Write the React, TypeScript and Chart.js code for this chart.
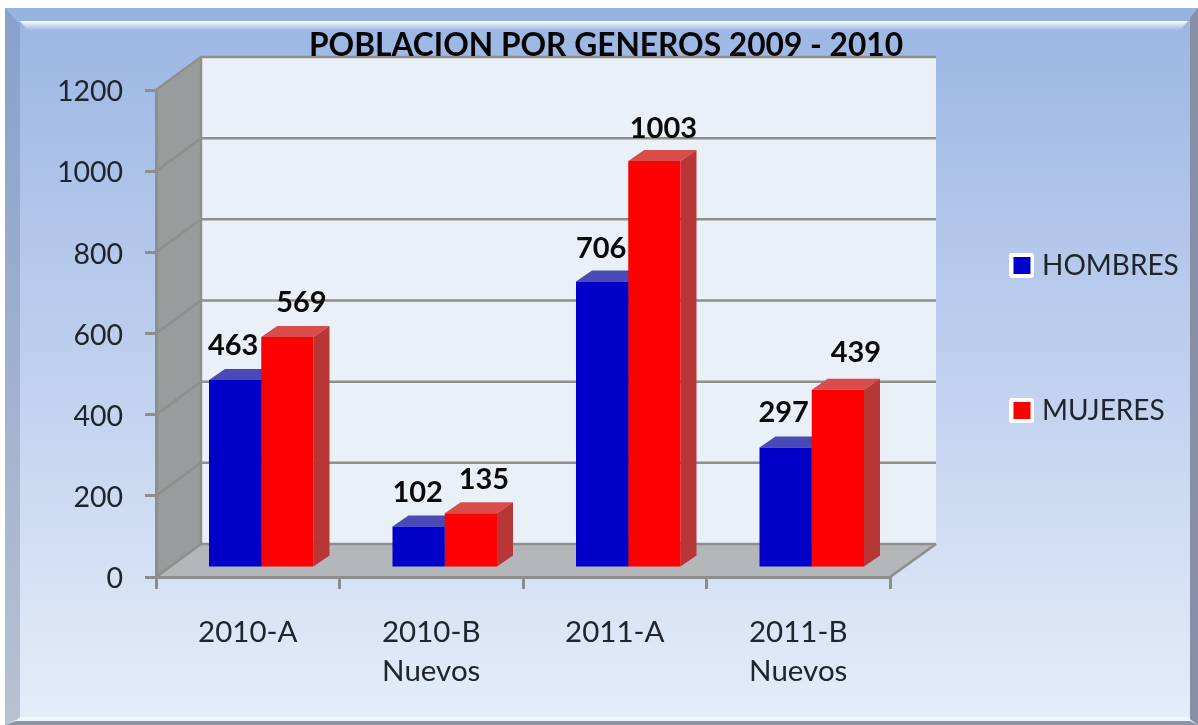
import React, { useEffect, useRef } from "react";
import { Chart, registerables } from "chart.js";

Chart.register(...registerables);

const categories = [["2010-A"], ["2010-B", "Nuevos"], ["2011-A"], ["2011-B", "Nuevos"]];
const hombres = [463, 102, 706, 297];
const mujeres = [569, 135, 1003, 439];
const seriesNames = ["HOMBRES", "MUJERES"];
const titleText = "POBLACION POR GENEROS 2009 - 2010";

const BLUE = "#0000c8";
const RED = "#ff0000";
const FONT = "Lato, 'Noto Sans', sans-serif";
const DEPTH_X = 45;
const DEPTH_Y = 33;
const BAR_SHIFT_X = 13.5;
const BAR_SHIFT_Y = 9;
const FACE_X = 16;
const FACE_Y = 11;
const faceColors = [
  { top: "#4a4ab6", side: "#00009c" },
  { top: "#d94c4c", side: "#b83636" },
];
const labelNudgeX = [
  [-2, -1, -1, -2],
  [14, 13, 9, 18],
];
const labelNudgeY = [
  [1, 1, 2, 0],
  [1, 1, 3, -2],
];

function poly(ctx: CanvasRenderingContext2D, pts: number[][], fill: any) {
  ctx.fillStyle = fill;
  ctx.beginPath();
  pts.forEach((p, i) => (i ? ctx.lineTo(p[0], p[1]) : ctx.moveTo(p[0], p[1])));
  ctx.closePath();
  ctx.fill();
}

const scenePlugin = {
  id: "scene",
  beforeDraw(chart: any) {
    const { ctx, chartArea: a } = chart;
    const W = chart.width;
    const H = chart.height;
    ctx.save();
    // panel
    const g = ctx.createLinearGradient(0, 8, 0, H);
    g.addColorStop(0, "#9bb6e3");
    g.addColorStop(0.5, "#bfd0ee");
    g.addColorStop(1, "#e5edf9");
    ctx.fillStyle = g;
    ctx.fillRect(5, 8, W - 5, H - 8);
    // bevels
    poly(ctx, [[5, 8], [W, 8], [1188, 21], [20, 21]], "#97b3df");
    const hl = ctx.createLinearGradient(0, 21, 0, 30);
    hl.addColorStop(0, "#ffffff");
    hl.addColorStop(1, "rgba(255,255,255,0)");
    poly(ctx, [[20, 21], [1188, 21], [1180, 30], [28, 30]], hl);
    const lb = ctx.createLinearGradient(0, 8, 0, H);
    lb.addColorStop(0, "#88a0cc");
    lb.addColorStop(1, "#b8c1d2");
    poly(ctx, [[5, 8], [20, 24], [20, 718], [5, H]], lb);
    poly(ctx, [[W, 8], [1190, 18], [1190, 719], [W, H]], "#868fa6");
    poly(ctx, [[5, H], [W, H], [1190, 721], [16, 721]], "#8d95a8");
    poly(ctx, [[20, 717], [1190, 717], [1190, 721], [16, 721]], "#f2f6fc");
    // 3D box
    const { left: l, right: r, top: t, bottom: b } = a;
    const dx = DEPTH_X;
    const dy = DEPTH_Y;
    poly(ctx, [[l + dx + 0, t - dy], [r + dx + 1, t - dy], [r + dx + 1, b - dy], [l + dx, b - dy]], "#e9f0f7");
    poly(ctx, [[l, t], [l + dx, t - dy], [l + dx, b - dy], [l, b]], "#979c9c");
    poly(ctx, [[l, b], [r, b], [r + dx + 1, b - dy], [l + dx, b - dy]], "#b3b7ba");
    // gridlines along the walls
    ctx.strokeStyle = "#8e8e8c";
    ctx.lineWidth = 2.5;
    const ys = chart.scales.y;
    ys.ticks.forEach((_: any, i: number) => {
      const y = ys.getPixelForTick(i);
      ctx.beginPath();
      ctx.moveTo(l, y);
      ctx.lineTo(l + dx, y - dy);
      ctx.lineTo(r + dx + 1, y - dy);
      ctx.stroke();
    });
    ctx.beginPath();
    ctx.moveTo(l + dx, t - dy);
    ctx.lineTo(l + dx, b - dy);
    ctx.stroke();
    ctx.beginPath();
    ctx.moveTo(r, b);
    ctx.lineTo(r + dx + 1, b - dy);
    ctx.stroke();
    ctx.restore();
  },
  beforeDatasetsDraw(chart: any) {
    const { ctx } = chart;
    ctx.save();
    ctx.translate(BAR_SHIFT_X, -BAR_SHIFT_Y);
    chart.data.datasets.forEach((_: any, di: number) => {
      chart.getDatasetMeta(di).data.forEach((bar: any) => {
        const p = bar.getProps(["x", "y", "base", "width"], true);
        const x0 = p.x - p.width / 2;
        const x1 = p.x + p.width / 2;
        poly(ctx, [[x0, p.y], [x0 + FACE_X, p.y - FACE_Y], [x1 + FACE_X, p.y - FACE_Y], [x1, p.y]], faceColors[di].top);
        poly(ctx, [[x1, p.y], [x1 + FACE_X, p.y - FACE_Y], [x1 + FACE_X, p.base - FACE_Y], [x1, p.base]], faceColors[di].side);
      });
    });
  },
  afterDatasetsDraw(chart: any) {
    const { ctx } = chart;
    ctx.restore();
    ctx.save();
    // value labels
    ctx.fillStyle = "#0a0a0a";
    ctx.font = `bold 29px ${FONT}`;
    ctx.textAlign = "center";
    ctx.textBaseline = "middle";
    chart.data.datasets.forEach((ds: any, di: number) => {
      chart.getDatasetMeta(di).data.forEach((bar: any, i: number) => {
        const p = bar.getProps(["x", "y"], true);
        ctx.fillText(String(ds.data[i]), p.x + BAR_SHIFT_X + labelNudgeX[di][i], p.y - BAR_SHIFT_Y - 35 + labelNudgeY[di][i]);
      });
    });
    // title
    ctx.font = `bold 31.7px ${FONT}`;
    ctx.fillStyle = "#050505";
    ctx.fillText(titleText, 606, 46);
    // legend
    ctx.font = `28px ${FONT}`;
    ctx.textAlign = "left";
    ctx.fillStyle = "#20242c";
    [265.5, 410.5].forEach((cy, i) => {
      ctx.save();
      ctx.fillStyle = "#ffffff";
      ctx.beginPath();
      ctx.roundRect(1009, cy - 12.5, 25, 25, 3);
      ctx.fill();
      ctx.fillStyle = i ? RED : BLUE;
      ctx.fillRect(1013.5, cy - 8.5, 17, 17);
      ctx.restore();
      ctx.fillText(seriesNames[i], 1042, cy);
    });
    ctx.restore();
  },
};

export default function App() {
  const ref = useRef<HTMLCanvasElement>(null);
  useEffect(() => {
    document.body.style.margin = "0";
    const chart = new Chart(ref.current as HTMLCanvasElement, {
      type: "bar",
      data: {
        labels: categories as any,
        datasets: [
          { label: seriesNames[0], data: hombres, backgroundColor: BLUE, categoryPercentage: 0.5695, barPercentage: 1, clip: false },
          { label: seriesNames[1], data: mujeres, backgroundColor: RED, categoryPercentage: 0.5695, barPercentage: 1, clip: false },
        ],
      },
      options: {
        responsive: false,
        animation: false,
        layout: { padding: { left: 0, right: 308, top: 90, bottom: 0 } },
        plugins: { legend: { display: false }, title: { display: false }, tooltip: { enabled: false } },
        scales: {
          x: {
            afterFit: (s: any) => { s.height = 148; },
            grid: { drawOnChartArea: false, color: "#8e8e8c", lineWidth: 3, tickLength: 12 },
            border: { display: true, color: "#8e8e8c", width: 3 },
            ticks: { color: "#20242c", font: { family: FONT, size: 29.5, lineHeight: 1.32 }, padding: 24, maxRotation: 0, autoSkip: false },
          },
          y: {
            min: 0,
            max: 1200,
            afterFit: (s: any) => { s.width = 156; },
            grid: { drawOnChartArea: false, color: "#8e8e8c", lineWidth: 3, tickLength: 11 },
            border: { display: true, color: "#8e8e8c", width: 3 },
            ticks: { stepSize: 200, color: "#20242c", font: { family: FONT, size: 28.5 }, padding: 22, labelOffset: 2, callback: (v: any) => String(v) },
          },
        },
      },
      plugins: [scenePlugin],
    });
    return () => chart.destroy();
  }, []);
  return (
    <canvas ref={ref} width={1198} height={725} style={{ position: "absolute", left: 0, top: 0, display: "block" }} />
  );
}
